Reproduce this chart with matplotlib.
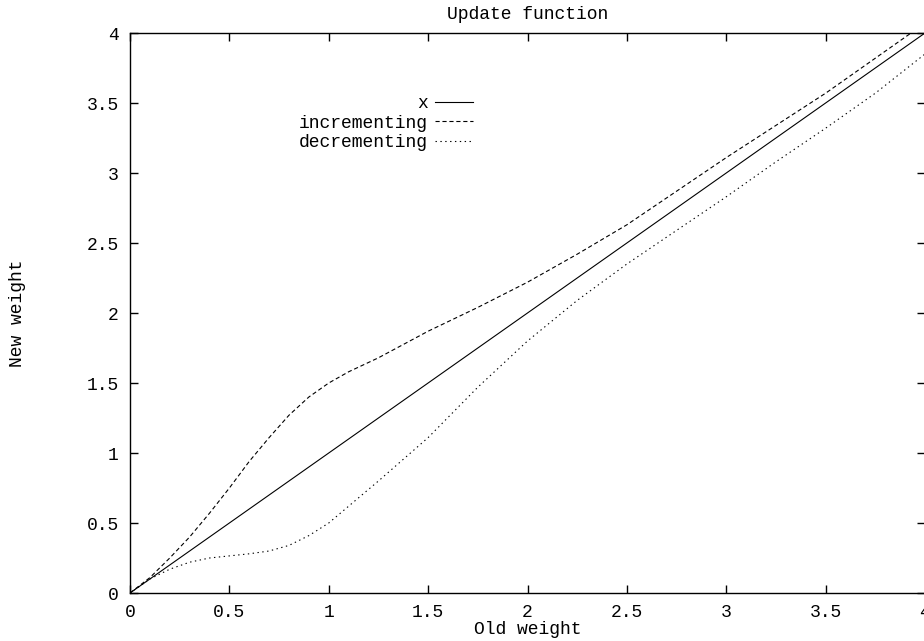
import matplotlib
matplotlib.use("Agg")
import matplotlib.pyplot as plt

# values
old_weight_inc = [0, 0.1, 0.2, 0.3, 0.4, 0.5, 0.6, 0.7, 0.8, 0.9, 1.0, 1.1, 1.25,
                  1.5, 1.75, 2.0, 2.25, 2.5, 2.75, 3.0, 3.25, 3.5, 3.75, 4.0]
incrementing = [0, 0.11, 0.25, 0.40, 0.57, 0.75, 0.94, 1.11, 1.27, 1.40, 1.50, 1.58, 1.68,
                1.87, 2.04, 2.22, 2.42, 2.63, 2.87, 3.11, 3.34, 3.57, 3.82, 4.07]
old_weight_dec = [0, 0.1, 0.2, 0.3, 0.4, 0.5, 0.6, 0.7, 0.8, 0.9, 1.0, 1.1, 1.25,
                  1.5, 1.75, 2.0, 2.25, 2.5, 2.75, 3.0, 3.25, 3.5, 3.75, 4.0]
decrementing = [0, 0.10, 0.17, 0.22, 0.25, 0.265, 0.28, 0.30, 0.34, 0.41, 0.50, 0.62, 0.80,
                1.11, 1.47, 1.80, 2.09, 2.35, 2.59, 2.83, 3.08, 3.32, 3.57, 3.85]
identity_x = [0, 4]
identity_y = [0, 4]

xticks = [0, 0.5, 1, 1.5, 2, 2.5, 3, 3.5, 4]
xticklabels = ["0", "0.5", "1", "1.5", "2", "2.5", "3", "3.5", "4"]
yticks = [0, 0.5, 1, 1.5, 2, 2.5, 3, 3.5, 4]
yticklabels = ["0", "0.5", "1", "1.5", "2", "2.5", "3", "3.5", "4"]

FS = 13
plt.rcParams['font.family'] = ['Liberation Mono', 'DejaVu Sans Mono']
plt.rcParams['font.size'] = FS
plt.rcParams['lines.scale_dashes'] = False

W, H = 924, 641
fig = plt.figure(figsize=(W / 100.0, H / 100.0), dpi=100)
ax = fig.add_axes([130 / W, (H - 593) / H, 795 / W, 560 / H])

lw = 0.8
ax.plot(identity_x, identity_y, color='black', lw=lw, label='x')
ax.plot(old_weight_inc, incrementing, color='black', lw=lw, linestyle=(0, (3, 2)),
        label='incrementing')
ax.plot(old_weight_dec, decrementing, color='black', lw=lw, linestyle=(0, (1, 2.5)),
        label='decrementing')

ax.set_xlim(0, 4)
ax.set_ylim(0, 4)
ax.set_xticks(xticks)
ax.set_xticklabels(xticklabels)
ax.set_yticks(yticks)
ax.set_yticklabels(yticklabels)
ax.tick_params(direction='in', length=6, width=1, top=True, right=True, pad=8,
               labelsize=FS)
for s in ax.spines.values():
    s.set_linewidth(1.0)

ax.set_title("Update function", pad=10, fontsize=FS)
ax.set_xlabel("Old weight", labelpad=0, fontsize=FS)
fig.text(18 / W, 1 - 313 / H, "New weight", rotation=90, ha='center', va='center',
         fontsize=FS)

ax.legend(loc='upper right', bbox_to_anchor=((473 - 130) / 795, (593 - 95) / 560),
          frameon=False, markerfirst=False, handlelength=2.1, handletextpad=0.4,
          labelspacing=0.15, borderpad=0, borderaxespad=0, fontsize=FS)

fig.savefig("out.png", dpi=100)
